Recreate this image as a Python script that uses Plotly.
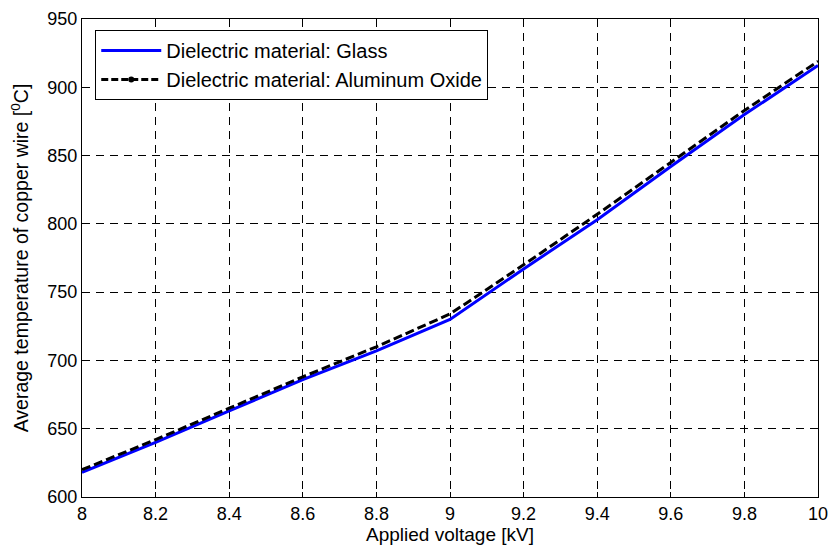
import plotly.graph_objects as go

# Applied voltage [kV]
voltage = [8.0, 8.2, 8.4, 8.6, 8.8, 9.0, 9.2, 9.4, 9.6, 9.8, 10.0]
# Average copper-wire temperature [°C] for each dielectric
temp_glass = [618, 640, 663, 686, 707, 730, 767, 803, 842, 880, 916]
temp_alox = [620, 642, 665, 688, 710, 734, 770, 807, 845, 883, 919]

x_ticks = [8, 8.2, 8.4, 8.6, 8.8, 9, 9.2, 9.4, 9.6, 9.8, 10]
x_tick_text = ["8", "8.2", "8.4", "8.6", "8.8", "9", "9.2", "9.4", "9.6", "9.8", "10"]
y_ticks = [600, 650, 700, 750, 800, 850, 900, 950]

FONT = "Liberation Sans, Arial, sans-serif"

fig = go.Figure()

fig.add_trace(go.Scatter(
    x=voltage, y=temp_glass, mode="lines",
    name="Dielectric material: Glass",
    line=dict(color="#0000FF", width=3),
))
fig.add_trace(go.Scatter(
    x=voltage, y=temp_alox, mode="lines",
    name="Dielectric material: Aluminum Oxide",
    line=dict(color="black", width=3, dash="9px,4px"),
    showlegend=False,
))
# legend entry for the dashed series, shown with its dot marker
fig.add_trace(go.Scatter(
    x=[None], y=[None], mode="lines+markers",
    name="Dielectric material: Aluminum Oxide",
    line=dict(color="black", width=3, dash="7px,3px"),
    marker=dict(color="black", size=6, symbol="circle"),
))

axis_common = dict(
    showline=True, linecolor="black", linewidth=1, mirror="allticks",
    ticks="inside", ticklen=5, tickcolor="black",
    showgrid=True, gridcolor="black", gridwidth=1, griddash="8px,6px",
    zeroline=False, automargin=False,
    tickfont=dict(family=FONT, size=18, color="black"),
)

fig.update_xaxes(
    range=[8, 10], tickvals=x_ticks, ticktext=x_tick_text,
    title=dict(text="Applied voltage [kV]", font=dict(family=FONT, size=19, color="black"), standoff=2),
    **axis_common,
)
fig.update_yaxes(
    range=[600, 950], tickvals=y_ticks,
    title=dict(text="Average temperature of copper wire [<sup>0</sup>C]",
               font=dict(family=FONT, size=19.5, color="black"), standoff=13),
    **axis_common,
)

fig.update_layout(
    width=830, height=551,
    margin=dict(l=82, r=12, t=19, b=54),
    paper_bgcolor="white", plot_bgcolor="white",
    font=dict(family=FONT, size=18, color="black"),
    showlegend=True,
    legend=dict(
        x=0.018, y=0.977, xanchor="left", yanchor="top",
        bgcolor="white", bordercolor="black", borderwidth=1,
        font=dict(family=FONT, size=20, color="black"),
        itemwidth=60, tracegroupgap=0,
    ),
)

fig.write_html("out.html")
